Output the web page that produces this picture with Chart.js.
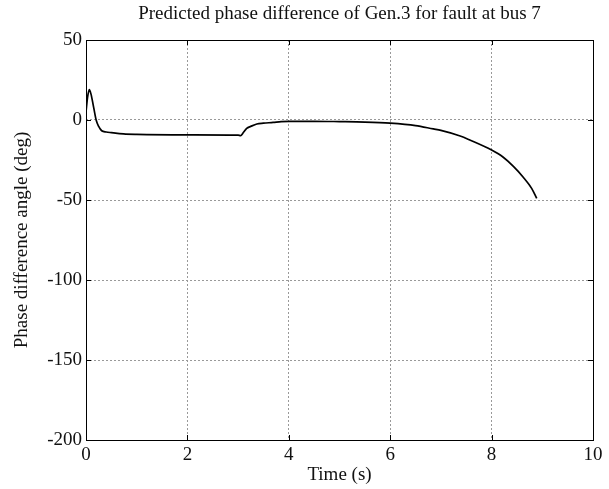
<!DOCTYPE html>
<html>
<head>
<meta charset="utf-8">
<script src="https://cdn.jsdelivr.net/npm/chart.js@4.4.0/dist/chart.umd.min.js"></script>
<style>
  body { margin: 0; background: #fff; }
</style>
</head>
<body>
<canvas id="phaseChart" width="609" height="489"></canvas>
<script>
// Predicted phase difference, Gen.3, fault at bus 7
const timeValues = [0, 0.03, 0.065, 0.1, 0.15, 0.2, 0.25, 0.31, 0.4, 0.5, 0.74, 1.0, 2.0, 3.0, 3.05,
  3.1, 3.17, 3.25, 3.37, 3.5, 3.69, 3.85, 4.0, 4.5, 5.0, 5.5, 6.0, 6.5, 6.85, 7.0, 7.38, 7.57,
  8.0, 8.23, 8.43, 8.62, 8.79, 8.89];
const phaseValues = [5, 14, 19, 16, 8, 0, -4, -6.7, -7.5, -7.9, -8.7, -9, -9.3, -9.5, -9.8,
  -8, -5.2, -4, -2.5, -2, -1.5, -1, -0.8, -0.8, -1, -1.3, -2, -3.5, -5.6, -6.5, -10, -12.5,
  -18.8, -23.3, -29, -35.6, -42.7, -49];
const xTicks = [0, 2, 4, 6, 8, 10];
const yTicks = [-200, -150, -100, -50, 0, 50];

const serif = 'Liberation Serif, Times New Roman, serif';

// matlab style box + inward tick marks
const boxPlugin = {
  id: 'boxPlugin',
  afterDraw(chart) {
    const c = chart.ctx;
    const a = chart.chartArea;
    const xs = chart.scales.x;
    const ys = chart.scales.y;
    c.save();
    c.strokeStyle = '#000';
    c.lineWidth = 1;
    c.beginPath();
    xTicks.forEach(v => {
      const px = Math.round(xs.getPixelForValue(v)) + 0.5;
      c.moveTo(px, a.bottom); c.lineTo(px, a.bottom - 5);
      c.moveTo(px, a.top); c.lineTo(px, a.top + 5);
    });
    yTicks.forEach(v => {
      const py = Math.round(ys.getPixelForValue(v)) + 0.5;
      c.moveTo(a.left, py); c.lineTo(a.left + 5, py);
      c.moveTo(a.right, py); c.lineTo(a.right - 5, py);
    });
    c.stroke();
    c.strokeRect(Math.round(a.left) + 0.5, Math.round(a.top) + 0.5,
      Math.round(a.right - a.left), Math.round(a.bottom - a.top));
    c.restore();
  }
};

const ctx = document.getElementById('phaseChart').getContext('2d');
new Chart(ctx, {
  type: 'line',
  data: {
    datasets: [{
      data: timeValues.map((t, i) => ({ x: t, y: phaseValues[i] })),
      borderColor: '#000',
      borderWidth: 1.7,
      pointRadius: 0,
      fill: false,
      cubicInterpolationMode: 'monotone'
    }]
  },
  options: {
    responsive: false,
    animation: false,
    layout: { padding: { left: 0, right: 16, top: 0, bottom: 0 } },
    plugins: {
      legend: { display: false },
      tooltip: { enabled: false },
      title: {
        display: true,
        fullSize: false,
        text: 'Predicted phase difference of Gen.3 for fault at bus 7',
        color: '#111',
        font: { family: serif, size: 19, weight: 'normal', lineHeight: 1.2 },
        padding: { top: 3, bottom: 14.2 }
      }
    },
    scales: {
      x: {
        type: 'linear',
        min: 0,
        max: 10,
        afterFit: s => { s.height = 49; },
        ticks: {
          stepSize: 2,
          color: '#111',
          padding: 4,
          maxRotation: 0,
          font: { family: serif, size: 19 }
        },
        grid: {
          color: '#999',
          drawTicks: false
        },
        border: { display: false, dash: [2, 2] },
        title: {
          display: true,
          text: 'Time (s)',
          color: '#111',
          font: { family: serif, size: 19, lineHeight: 1.2 },
          padding: { top: 2.6, bottom: 2.6 }
        }
      },
      y: {
        min: -200,
        max: 50,
        afterFit: s => { s.width = 86; },
        ticks: {
          stepSize: 50,
          color: '#111',
          padding: 4,
          font: { family: serif, size: 19 }
        },
        grid: {
          color: '#999',
          drawTicks: false
        },
        border: { display: false, dash: [2, 2] },
        title: {
          display: true,
          text: 'Phase difference angle (deg)',
          color: '#111',
          font: { family: serif, size: 19, lineHeight: 1.2 },
          padding: { top: 10.6, bottom: 10.6 }
        }
      }
    }
  },
  plugins: [boxPlugin]
});
</script>
</body>
</html>
